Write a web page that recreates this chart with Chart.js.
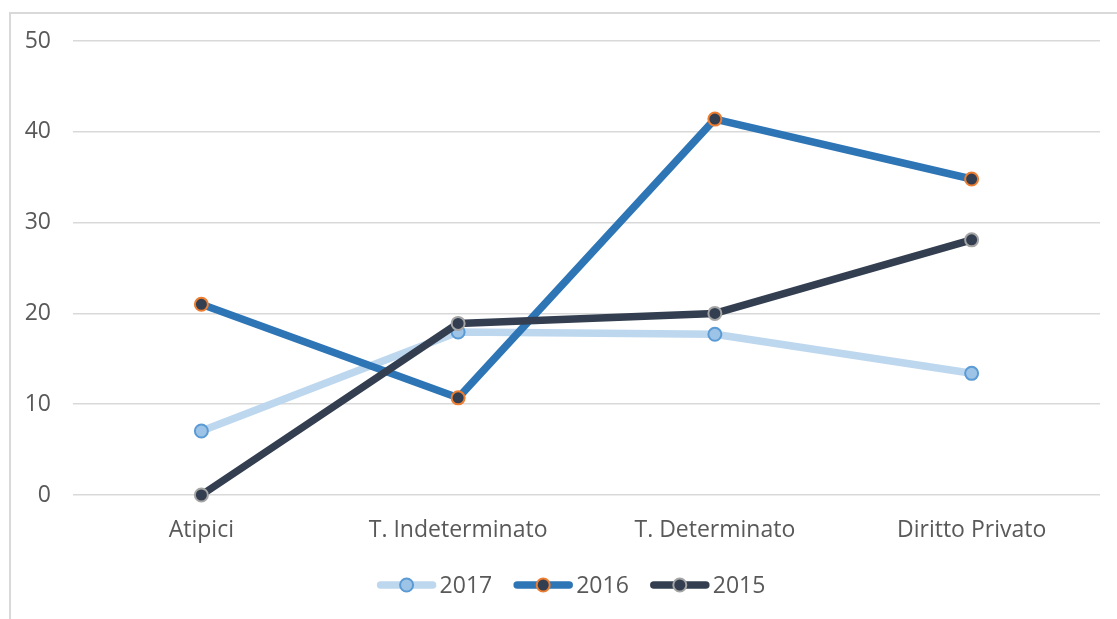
<!DOCTYPE html>
<html>
<head>
<meta charset="utf-8">
<script src="https://cdn.jsdelivr.net/npm/chart.js@4/dist/chart.umd.min.js"></script>
<style>
html,body{margin:0;padding:0;background:#fff;overflow:hidden;width:1117px;height:619px;}
#frame{position:absolute;left:9px;top:12px;width:1200px;height:700px;border:2px solid #D9D9D9;box-sizing:border-box;}
#wrap{position:absolute;left:0;top:0;width:1117px;height:619px;}
</style>
</head>
<body>
<div id="frame"></div>
<div id="wrap"><canvas id="c" width="1117" height="619"></canvas></div>
<script>
const categories = ["Atipici", "T. Indeterminato", "T. Determinato", "Diritto Privato"];
const values2017 = [7.05, 17.95, 17.7, 13.4];
const values2016 = [21.0, 10.7, 41.4, 34.8];
const values2015 = [0, 18.9, 20.0, 28.1];
const yTicks = [0, 10, 20, 30, 40, 50];

const FONT = "'Open Sans', 'DejaVu Sans', sans-serif";
const TEXT = "#595959";
const FS = 23;

const series = [
  {label: "2017", data: values2017, line: "#BDD7EE", fill: "#9DC3E6", border: "#5B9BD5", order: 3},
  {label: "2016", data: values2016, line: "#2E75B6", fill: "#333F50", border: "#ED7D31", order: 2},
  {label: "2015", data: values2015, line: "#333F50", fill: "#333F50", border: "#A5A5A5", order: 1}
];

const legendPlugin = {
  id: "customLegend",
  afterDraw(chart) {
    const ctx = chart.ctx;
    ctx.save();
    ctx.font = FS + "px " + FONT;
    const lineLen = 60, gapText = 3, gapItem = 21;
    const widths = series.map(s => lineLen + gapText + ctx.measureText(s.label).width);
    const total = widths.reduce((a, b) => a + b, 0) + gapItem * (series.length - 1);
    let x = 571 - total / 2;
    const y = 585;
    series.forEach((s, i) => {
      ctx.strokeStyle = s.line;
      ctx.lineWidth = 7.5;
      ctx.lineCap = "round";
      ctx.beginPath();
      ctx.moveTo(x + 4, y);
      ctx.lineTo(x + lineLen - 4, y);
      ctx.stroke();
      ctx.beginPath();
      ctx.arc(x + lineLen / 2, y, 6.5, 0, Math.PI * 2);
      ctx.fillStyle = s.fill;
      ctx.fill();
      ctx.lineWidth = 2;
      ctx.strokeStyle = s.border;
      ctx.stroke();
      ctx.fillStyle = TEXT;
      ctx.textBaseline = "middle";
      ctx.textAlign = "left";
      ctx.fillText(s.label, x + lineLen + gapText, y + 1);
      x += widths[i] + gapItem;
    });
    ctx.restore();
  }
};

new Chart(document.getElementById("c"), {
  type: "line",
  data: {
    labels: categories,
    datasets: series.map(s => ({
      label: s.label,
      data: s.data,
      borderColor: s.line,
      borderWidth: 7.5,
      backgroundColor: s.fill,
      pointBackgroundColor: s.fill,
      pointBorderColor: s.border,
      pointBorderWidth: 2,
      pointRadius: 6.5,
      pointHoverRadius: 6.5,
      tension: 0,
      fill: false,
      clip: false,
      order: s.order,
      borderCapStyle: "round",
      borderJoinStyle: "round"
    }))
  },
  options: {
    responsive: false,
    animation: false,
    layout: {padding: {left: 0, top: 41, right: 17, bottom: 0}},
    plugins: {legend: {display: false}, tooltip: {enabled: false}},
    scales: {
      x: {
        offset: true,
        grid: {display: false, drawTicks: false},
        border: {display: false},
        ticks: {color: TEXT, font: {family: FONT, size: FS}, padding: 22, maxRotation: 0},
        afterFit(scale) { scale.height = 124; }
      },
      y: {
        min: 0, max: 50,
        afterBuildTicks(scale) { scale.ticks = yTicks.map(v => ({value: v})); },
        grid: {color: "#D9D9D9", lineWidth: 1.5, drawTicks: false},
        border: {display: false},
        ticks: {color: TEXT, font: {family: FONT, size: FS}, padding: 22},
        afterFit(scale) { scale.width = 73; }
      }
    }
  },
  plugins: [legendPlugin]
});
</script>
</body>
</html>
